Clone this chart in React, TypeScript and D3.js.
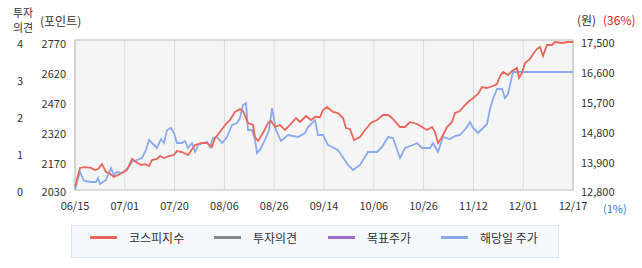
import React from "react";
import * as d3 from "d3";

const dateLabels = ["06/15", "07/01", "07/20", "08/06", "08/26", "09/14", "10/06", "10/26", "11/12", "12/01", "12/17"];
const kospiTicks = [2030, 2170, 2320, 2470, 2620, 2770];
const priceTicks = [12800, 13900, 14800, 15700, 16600, 17500];
const opinionTicks = [0, 1, 2, 3, 4];

// [trading-day index, KOSPI]
const kospiSeries: [number, number][] = [
  [0, 2044], [1.25, 2133], [2.25, 2137], [4, 2133], [5, 2123], [5.75, 2128], [6.75, 2151], [7.75, 2114],
  [8.5, 2109], [9.75, 2091], [10.75, 2100], [11.75, 2109], [13, 2123], [14.25, 2175], [15.25, 2161],
  [16.5, 2147], [17.5, 2151], [18.5, 2142], [19.25, 2170], [20.5, 2175], [21.25, 2190], [22.25, 2180],
  [23.5, 2190], [24.75, 2195], [25.5, 2215], [26.75, 2210], [28.25, 2195], [30, 2245], [31.75, 2255],
  [33, 2255], [34.25, 2235], [35, 2280], [36.25, 2310], [37.5, 2345], [38.75, 2370], [40, 2410],
  [41.25, 2425], [42, 2415], [43.25, 2355], [44.5, 2345], [45, 2285], [45.75, 2265], [47, 2305],
  [48.25, 2355], [49, 2365], [50, 2335], [51.25, 2345], [52.5, 2320], [53.75, 2345], [55.25, 2380],
  [56.25, 2360], [57.75, 2390], [59, 2370], [60, 2385], [61.25, 2385], [62, 2420], [63, 2435],
  [64.5, 2410], [65.75, 2405], [67, 2380], [67.75, 2330], [68.75, 2325], [69.75, 2270], [71.25, 2285],
  [72.5, 2320], [74, 2355], [75.5, 2370], [77, 2395], [78.25, 2395], [79.25, 2380], [81.25, 2335],
  [82.5, 2335], [83.75, 2360], [85.5, 2350], [86.75, 2335], [88, 2320], [89.25, 2335], [90, 2310],
  [90.75, 2255], [91.75, 2285], [93, 2335], [94.25, 2360], [95, 2405], [96.25, 2415], [97, 2435],
  [98.25, 2460], [99.25, 2475], [100.75, 2500], [101.75, 2535], [103, 2530], [104.5, 2540],
  [105.5, 2550], [106.25, 2590], [107, 2610], [108.25, 2595], [109.25, 2615], [110.5, 2630],
  [111, 2580], [111.75, 2605], [112.5, 2655], [113.75, 2675], [114.5, 2700], [115.5, 2725],
  [116.25, 2735], [117, 2690], [118, 2745], [119.25, 2745], [120, 2760], [121.75, 2755], [123, 2760],
  [124.5, 2760],
];

// [trading-day index, stock price (won)]
const priceSeries: [number, number][] = [
  [0, 12800], [0.5, 13093], [1.25, 13460], [2.25, 13130], [4, 13093], [5.25, 13093], [5.75, 13240],
  [6.25, 13020], [7.75, 13167], [8.25, 13350], [9, 13607], [9.75, 13350], [10.5, 13460], [11.75, 13423],
  [13, 13570], [14.25, 13827], [15.5, 13900], [16.75, 13960], [17.75, 14200], [18.5, 14500],
  [19.25, 14410], [20.5, 14260], [21.5, 14530], [22.25, 14410], [23, 14800], [24, 14860],
  [24.75, 14710], [25.5, 14410], [26.75, 14410], [27.5, 14470], [28.25, 14260], [29.25, 14410],
  [30, 14140], [30.75, 14350], [32, 14410], [33, 14440], [33.75, 14290], [34.5, 14560], [35.5, 14590],
  [36.75, 14410], [38, 14590], [39.25, 14950], [40.5, 15010], [41.25, 15160], [42, 15550],
  [42.75, 15610], [43.25, 14800], [44.25, 14800], [45, 14500], [45.5, 14110], [46.25, 14200],
  [47.5, 14500], [48.5, 14800], [49.25, 15460], [50.25, 14800], [51.5, 14470], [53.25, 14650],
  [55.75, 14590], [57.5, 14710], [58.25, 14890], [60, 15100], [60.75, 14650], [62, 14650],
  [63.25, 14350], [65.75, 14200], [68.25, 13717], [69.5, 13533], [71.25, 13717], [73.25, 14140],
  [75.5, 14140], [76.75, 14290], [78.25, 14590], [79.5, 14560], [81.25, 13960], [82.5, 14260],
  [84.5, 14350], [85.5, 14410], [86.75, 14260], [88.75, 14260], [89.5, 14410], [90.75, 14140],
  [92, 14590], [93.75, 14530], [95, 14620], [96.25, 14650], [98, 14890], [98.75, 15040],
  [99.5, 14860], [100.75, 14710], [102, 14860], [103, 14980], [103.75, 15430], [104.5, 15730],
  [105.5, 16030], [106.75, 16030], [107.5, 15760], [108.25, 15880], [109.25, 16420], [109.5, 16540],
  [124.5, 16540],
];

const legendItems = [
  { label: "코스피지수", color: "#e8675a" },
  { label: "투자의견", color: "#888888" },
  { label: "목표주가", color: "#a070cc" },
  { label: "해당일 주가", color: "#88aaee" },
];

const FONT = "'Noto Sans CJK KR', 'Noto Sans', sans-serif";

export default function App() {
  const left = 75, right = 573, top = 40, bottom = 190;
  const x = d3.scaleLinear().domain([0, 124.5]).range([left, right]);
  const tickStep = 124.5 / (dateLabels.length - 1);
  const kospiY = d3.scaleLinear().domain(kospiTicks).range([190, 160, 130, 100, 70, 40]);
  const priceY = d3.scaleLinear().domain(priceTicks).range([190, 160, 130, 100, 70, 40]);
  const opY = d3.scaleLinear().domain([0, 4]).range([190.5, 43]);

  const kospiLine = d3.line<[number, number]>().x((d) => x(d[0])).y((d) => kospiY(d[1]));
  const priceLine = d3.line<[number, number]>().x((d) => x(d[0])).y((d) => priceY(d[1]));

  const legendX = [90, 214, 328, 441];

  return (
    <svg width={642} height={268} style={{ position: "absolute", left: 0, top: 0, fontFamily: FONT }}>
      <rect x={0} y={0} width={642} height={268} fill="#ffffff" />
      {/* header */}
      <text fontSize={11} fill="#333">
        <tspan x={13} y={17}>투자</tspan>
        <tspan x={13} y={31.5}>의견</tspan>
      </text>
      <text x={40} y={26} fontSize={12} fill="#333">(포인트)</text>
      <text x={577} y={25} fontSize={12} fill="#333">(원)</text>
      <text x={603} y={25} fontSize={12} fill="#e02020">(36%)</text>

      {/* plot area */}
      <rect x={left} y={top} width={right - left} height={bottom - top} fill="#f5f5f5" />
      {dateLabels.map((d, i) => (
        <line key={"g" + i} x1={x(i * tickStep)} x2={x(i * tickStep)} y1={top} y2={bottom} stroke="#dcdcdc" strokeWidth={1} />
      ))}
      <rect x={left} y={top} width={right - left} height={bottom - top} fill="none" stroke="#bdbdbd" strokeWidth={1} />

      {/* axes labels */}
      {opinionTicks.map((v) => (
        <text key={"o" + v} x={20} y={opY(v)} fontSize={11} fill="#333" textAnchor="middle" dominantBaseline="central">{v}</text>
      ))}
      {kospiTicks.map((v, i) => (
        <text key={"k" + v} x={66} y={kospiY(v) + (i === 0 ? 1 : 2.5)} fontSize={11} fill="#333" textAnchor="end" dominantBaseline="central">{v}</text>
      ))}
      {priceTicks.map((v, i) => (
        <text key={"p" + v} x={581} y={priceY(v) + (i === 0 ? 1 : 2)} fontSize={11} fill="#333" textAnchor="start" dominantBaseline="central">{d3.format(",")(v)}</text>
      ))}
      {dateLabels.map((d, i) => (
        <text key={"d" + i} x={x(i * tickStep)} y={205} fontSize={11} fill="#333" textAnchor="middle" dominantBaseline="central">{d}</text>
      ))}
      <text x={603} y={208} fontSize={11} fill="#2a7be0" dominantBaseline="central">(1%)</text>

      {/* series */}
      <path d={priceLine(priceSeries) || ""} fill="none" stroke="#88aaee" strokeWidth={1.8} />
      <path d={kospiLine(kospiSeries) || ""} fill="none" stroke="#e8675a" strokeWidth={1.8} />

      {/* legend */}
      <rect x={71.5} y={225.5} width={487} height={32} fill="#f5f9fe" stroke="#d6e3ef" strokeWidth={1} />
      {legendItems.map((it, i) => (
        <g key={it.label}>
          <line x1={legendX[i]} x2={legendX[i] + 27} y1={237.5} y2={237.5} stroke={it.color} strokeWidth={3} />
          <text x={legendX[i] + 39} y={237.5} fontSize={12} fill="#333" dominantBaseline="central">{it.label}</text>
        </g>
      ))}
    </svg>
  );
}
